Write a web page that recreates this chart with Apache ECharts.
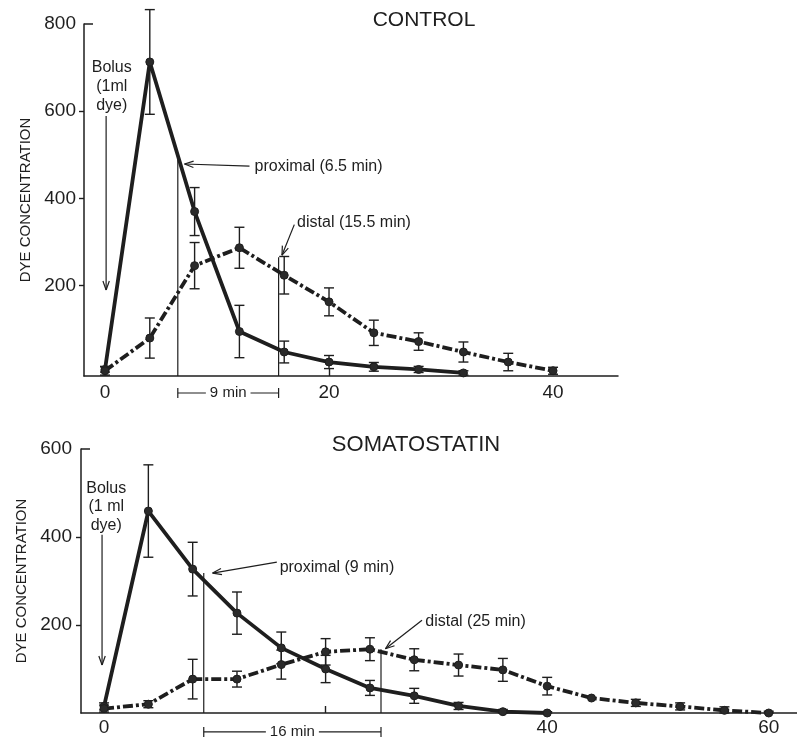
<!DOCTYPE html>
<html><head><meta charset="utf-8">
<script src="https://cdn.jsdelivr.net/npm/echarts@6/dist/echarts.min.js"></script>
<style>html,body{margin:0;padding:0;background:#fff}#c{width:797px;height:742px}</style>
</head><body><div id="c"></div><script>
const FONT = '"Liberation Sans", Arial, sans-serif';
const INK = '#1e1e1e';

// ---- CONTROL panel ----
const ctrlTime = [0, 4, 8, 12, 16, 20, 24, 28, 32, 36, 40];
const ctrlProx = [8, 713, 370, 95, 48, 25, 14, 8, 0];
const ctrlProxErr = [6, 120, 55, 60, 25, 15, 10, 7, 5];
const ctrlDist = [5, 80, 246, 287, 224, 163, 92, 72, 48, 25, 5];
const ctrlDistErr = [10, 46, 53, 47, 43, 32, 29, 20, 23, 20, 8];
const ctrlXLabels = [0, 20, 40];
const ctrlYLabels = [200, 400, 600, 800];

// ---- SOMATOSTATIN panel ----
const somaTime = [0, 4, 8, 12, 16, 20, 24, 28, 32, 36, 40, 44, 48, 52, 56, 60];
const somaProx = [15, 459, 327, 227, 148, 100, 57, 39, 16, 3, 0];
const somaProxErr = [8, 105, 61, 48, 36, 31, 17, 17, 8, 5, 3];
const somaDist = [10, 20, 77, 77, 110, 139, 145, 121, 109, 98, 61, 34, 23, 15, 6, 0];
const somaDistErr = [8, 8, 45, 18, 33, 30, 26, 25, 25, 26, 20, 0, 8, 8, 8, 4];
const somaXLabels = [0, 40, 60];
const somaYLabels = [200, 400, 600];

// ---- mean transit times ----
const ctrlProxTransit = 6.5, ctrlDistTransit = 15.5;
const somaProxTransit = 9, somaDistTransit = 25;

// axis extents
const ctrlX = [-1.875, 45.8], ctrlY = [-7, 800];
const somaX = [-2.08, 62.55], somaY = [0, 600];

// annotation layout (data units)
const ctrlNotes = {
  bolus: { lines: ['Bolus', '(1ml', 'dye)'], x: 0.6, y: [701, 656, 613], arrow: [[0.1, 589], [0.1, 190]] },
  prox: { t: ctrlProxTransit, top: 490, label: 'proximal (6.5 min)', from: [12.9, 474], to: [7.1, 479], textAt: [13.35, 474] },
  dist: { t: ctrlDistTransit, top: 265, label: 'distal (15.5 min)', from: [16.9, 340], to: [15.8, 270], textAt: [17.15, 345] },
  bracket: { y: -46, label: '9 min' }
};
const somaNotes = {
  bolus: { lines: ['Bolus', '(1 ml', 'dye)'], x: 0.2, y: [511, 468, 427], arrow: [[-0.18, 405], [-0.18, 109]] },
  prox: { t: somaProxTransit, top: 318, label: 'proximal (9 min)', from: [15.6, 343], to: [9.8, 318], textAt: [15.85, 330] },
  dist: { t: somaDistTransit, top: 145, label: 'distal (25 min)', from: [28.7, 211], to: [25.4, 146], textAt: [29.0, 207] },
  bracket: { y: -43, label: '16 min' }
};

function pairs(t, v) { return v.map((y, i) => [t[i], y]); }
function triples(t, v, e) { return v.map((y, i) => [t[i], y, e[i]]); }

function errBars(yMin) {
  return function (params, api) {
    const x = api.value(0), m = api.value(1), e = api.value(2);
    if (!e) return null;
    const hi = api.coord([x, m + e]), lo = api.coord([x, Math.max(m - e, yMin)]);
    const c = 5, st = { stroke: INK, lineWidth: 1.4 };
    return { type: 'group', children: [
      { type: 'line', shape: { x1: hi[0], y1: hi[1], x2: lo[0], y2: lo[1] }, style: st },
      { type: 'line', shape: { x1: hi[0] - c, y1: hi[1], x2: hi[0] + c, y2: hi[1] }, style: st },
      { type: 'line', shape: { x1: lo[0] - c, y1: lo[1], x2: lo[0] + c, y2: lo[1] }, style: st }
    ] };
  };
}

function annotate(n, xr, yr) {
  return function (params, api) {
    const P = p => api.coord(p);
    const ch = [];
    const st = w => ({ stroke: INK, lineWidth: w || 1.2 });
    const line = (a, b, w) => ch.push({ type: 'line', shape: { x1: a[0], y1: a[1], x2: b[0], y2: b[1] }, style: st(w) });
    const head = (a, b) => {
      const dx = b[0] - a[0], dy = b[1] - a[1], L = Math.hypot(dx, dy), ux = dx / L, uy = dy / L, len = 9, hw = 3.2;
      line([b[0] - ux * len - uy * hw, b[1] - uy * len + ux * hw], b);
      line([b[0] - ux * len + uy * hw, b[1] - uy * len - ux * hw], b);
    };
    const text = (s, p, align, size, bg) => ch.push({ type: 'text', z2: 10, style: {
      text: s, x: p[0], y: p[1], align: align, verticalAlign: 'middle', fill: INK,
      font: size + 'px ' + FONT, backgroundColor: bg ? '#fff' : 'transparent', padding: bg ? [0, 4] : 0 } });
    // y-axis top stub
    const tp = P([xr[0], yr[1]]);
    line(tp, [tp[0] + 9, tp[1]], 1.5);
    // bolus
    n.bolus.lines.forEach((s, i) => text(s, P([n.bolus.x, n.bolus.y[i]]), 'center', 16));
    const b0 = P(n.bolus.arrow[0]), b1 = P(n.bolus.arrow[1]);
    line(b0, b1); head(b0, b1);
    // proximal / distal transit lines
    [n.prox, n.dist].forEach(a => {
      const base = P([a.t, yr[0]]), top = P([a.t, a.top]);
      line([base[0], base[1]], top);
      const f = P(a.from), t = P(a.to);
      line(f, t); head(f, t);
      text(a.label, P(a.textAt), 'left', 16);
    });
    // bracket
    const l = P([n.prox.t, n.bracket.y]), r = P([n.dist.t, n.bracket.y]);
    line(l, r);
    line([l[0], l[1] - 5], [l[0], l[1] + 5]);
    line([r[0], r[1] - 5], [r[0], r[1] + 5]);
    text(n.bracket.label, [(l[0] + r[0]) / 2, l[1]], 'center', 15, true);
    return { type: 'group', children: ch };
  };
}

function xAxis(idx, range, labels, margin) {
  return {
    type: 'value', gridIndex: idx, min: range[0], max: range[1],
    axisLine: { onZero: false, lineStyle: { color: INK, width: 1.5 } },
    splitLine: { show: false },
    axisTick: { show: true, inside: true, length: 7, customValues: [20], lineStyle: { color: INK, width: 1.4 } },
    axisLabel: { customValues: labels, color: INK, fontSize: 19, fontFamily: FONT, margin: margin }
  };
}
function yAxis(idx, range, labels, margin, gap) {
  return {
    type: 'value', gridIndex: idx, min: range[0], max: range[1],
    name: 'DYE CONCENTRATION', nameLocation: 'middle', nameRotate: 90, nameGap: gap,
    nameTextStyle: { color: INK, fontSize: 15, fontFamily: FONT },
    axisLine: { show: true, onZero: false, lineStyle: { color: INK, width: 1.5 } },
    splitLine: { show: false },
    axisTick: { show: true, length: 5, customValues: labels.filter(v => v !== range[1]), lineStyle: { color: INK, width: 1.4 } },
    axisLabel: { customValues: labels, color: INK, fontSize: 19, fontFamily: FONT, margin: margin }
  };
}

function lineSeries(idx, data, dashed) {
  return {
    type: 'line', xAxisIndex: idx, yAxisIndex: idx, data: data, z: 3,
    symbol: 'circle', symbolSize: 8, showSymbol: true,
    itemStyle: { color: '#2a2a2a', borderColor: INK, borderWidth: 1 },
    lineStyle: { color: INK, width: 3.8, type: dashed ? [10, 3, 3, 3] : 'solid', cap: 'butt' }
  };
}
function errSeries(idx, data, yMin) {
  return { type: 'custom', xAxisIndex: idx, yAxisIndex: idx, data: data, z: 2,
    encode: { x: 0, y: 1 }, renderItem: errBars(yMin) };
}
function noteSeries(idx, notes, xr, yr) {
  return { type: 'custom', xAxisIndex: idx, yAxisIndex: idx, data: [[notes.prox.t, notes.prox.top]], z: 1, clip: false,
    encode: { x: 0, y: 1 }, renderItem: annotate(notes, xr, yr), silent: true };
}

const chart = echarts.init(document.getElementById('c'), null, { renderer: 'canvas' });
chart.setOption({
  animation: false,
  backgroundColor: '#fff',
  title: [
    { text: 'CONTROL', left: 419, top: 5, textAlign: 'center', textStyle: { color: INK, fontSize: 21, fontWeight: 'normal', fontFamily: FONT } },
    { text: 'SOMATOSTATIN', left: 411, top: 429, textAlign: 'center', textStyle: { color: INK, fontSize: 22, fontWeight: 'normal', fontFamily: FONT } }
  ],
  grid: [
    { left: 84, top: 24, width: 534, height: 352 },
    { left: 81, top: 449, width: 716, height: 264 }
  ],
  xAxis: [xAxis(0, ctrlX, ctrlXLabels, 7), xAxis(1, somaX, somaXLabels, 5)],
  yAxis: [yAxis(0, ctrlY, ctrlYLabels, 8, 48), yAxis(1, somaY, somaYLabels, 9, 46)],
  series: [
    noteSeries(0, ctrlNotes, ctrlX, ctrlY),
    errSeries(0, triples(ctrlTime, ctrlProx, ctrlProxErr), ctrlY[0]),
    errSeries(0, triples(ctrlTime, ctrlDist, ctrlDistErr), ctrlY[0]),
    lineSeries(0, pairs(ctrlTime, ctrlProx), false),
    lineSeries(0, pairs(ctrlTime, ctrlDist), true),
    noteSeries(1, somaNotes, somaX, somaY),
    errSeries(1, triples(somaTime, somaProx, somaProxErr), somaY[0]),
    errSeries(1, triples(somaTime, somaDist, somaDistErr), somaY[0]),
    lineSeries(1, pairs(somaTime, somaProx), false),
    lineSeries(1, pairs(somaTime, somaDist), true)
  ]
});
</script></body></html>
